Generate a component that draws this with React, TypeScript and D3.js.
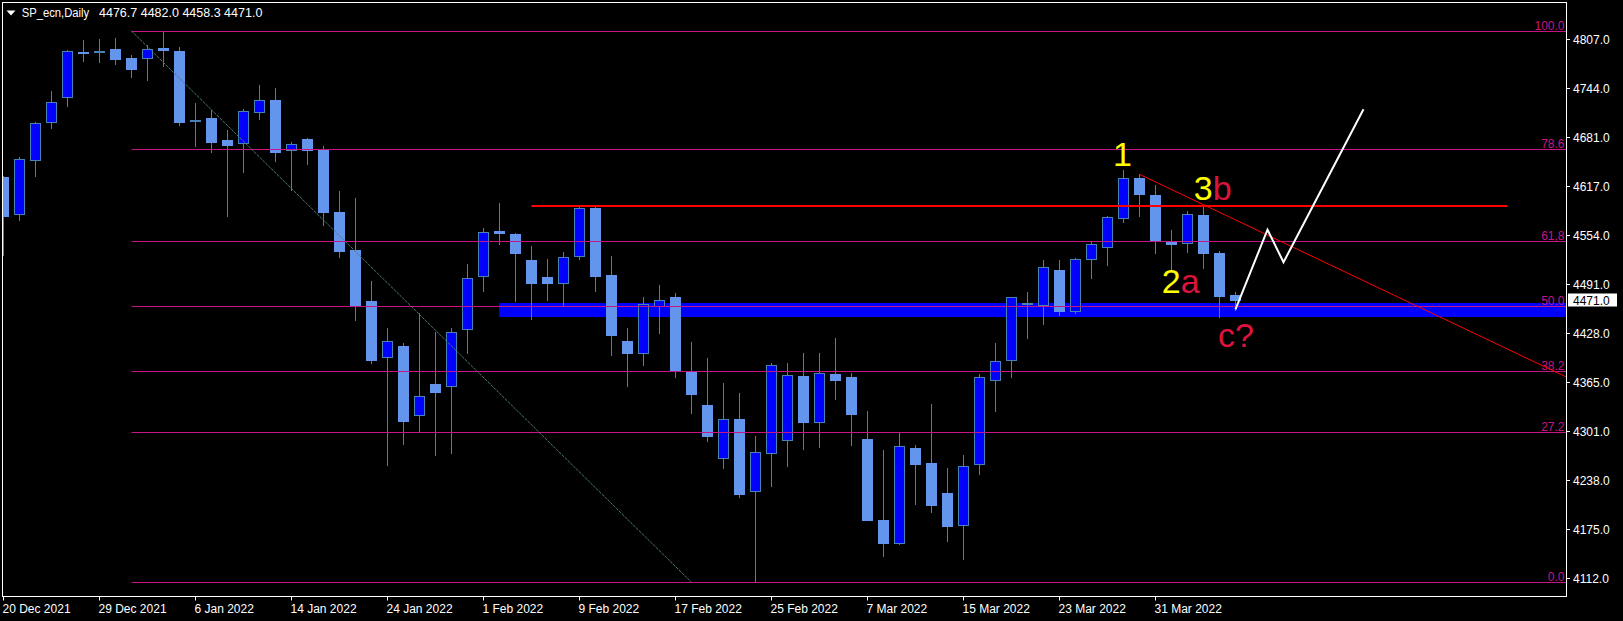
import React from "react";
import * as d3 from "d3";

// ---------- data ----------
const dates = [
  "2021-12-20","2021-12-21","2021-12-22","2021-12-23","2021-12-27","2021-12-28","2021-12-29","2021-12-30","2021-12-31",
  "2022-01-03","2022-01-04","2022-01-05","2022-01-06","2022-01-07","2022-01-10","2022-01-11","2022-01-12","2022-01-13","2022-01-14",
  "2022-01-17","2022-01-18","2022-01-19","2022-01-20","2022-01-21","2022-01-24","2022-01-25","2022-01-26","2022-01-27","2022-01-28",
  "2022-01-31","2022-02-01","2022-02-02","2022-02-03","2022-02-04","2022-02-07","2022-02-08","2022-02-09","2022-02-10","2022-02-11",
  "2022-02-14","2022-02-15","2022-02-16","2022-02-17","2022-02-18","2022-02-21","2022-02-22","2022-02-23","2022-02-24","2022-02-25",
  "2022-02-28","2022-03-01","2022-03-02","2022-03-03","2022-03-04","2022-03-07","2022-03-08","2022-03-09","2022-03-10","2022-03-11",
  "2022-03-14","2022-03-15","2022-03-16","2022-03-17","2022-03-18","2022-03-21","2022-03-22","2022-03-23","2022-03-24","2022-03-25",
  "2022-03-28","2022-03-29","2022-03-30","2022-03-31","2022-04-01","2022-04-04","2022-04-05","2022-04-06","2022-04-07",
];
const opens = [
  4629.7,4581.6,4651.3,4700.3,4732.5,4791.0,4790.5,4794.4,4783.2,
  4782.3,4795.0,4792.2,4702.3,4705.8,4677.4,4673.2,4713.2,4727.8,4664.2,
  4678.7,4665.5,4584.6,4535.6,4469.8,4396.7,4410.5,4321.9,4362.7,4359.8,
  4433.3,4501.4,4560.1,4556.2,4522.7,4500.7,4492.6,4527.4,4589.7,4503.3,
  4418.2,4402.3,4463.0,4473.7,4377.3,4334.4,4266.4,4317.6,4223.8,4272.8,
  4289.6,4371.8,4312.8,4375.6,4370.5,4291.8,4187.3,4156.8,4280.2,4259.6,
  4222.1,4180.0,4259.2,4367.5,4393.3,4466.3,4464.2,4509.8,4456.0,4523.6,
  4539.1,4576.5,4627.2,4606.5,4547.2,4544.2,4580.7,4531.7,4476.7,
];
const highs = [
  4631.4,4655.5,4700.3,4740.7,4793.5,4806.4,4807.3,4809.0,4787.1,
  4800.0,4818.0,4797.6,4725.2,4716.1,4690.3,4717.4,4748.4,4744.5,4674.9,
  4679.5,4669.7,4611.7,4602.6,4495.6,4435.0,4415.6,4454.3,4429.8,4435.0,
  4517.5,4563.9,4596.2,4557.5,4540.3,4524.0,4533.0,4590.7,4591.0,4527.8,
  4435.0,4475.0,4490.4,4480.1,4416.9,4395.9,4364.0,4351.1,4295.7,4389.8,
  4389.8,4402.7,4402.7,4422.1,4377.3,4327.9,4277.6,4299.9,4284.1,4336.9,
  4254.4,4271.2,4375.6,4415.6,4475.0,4481.0,4522.7,4522.7,4525.3,4547.2,
  4579.4,4638.8,4633.2,4619.8,4561.4,4585.9,4591.4,4533.9,4482.0,
];
const lows = [
  4529.1,4574.3,4631.4,4693.3,4721.7,4779.7,4778.4,4775.9,4759.1,
  4754.8,4773.3,4696.8,4669.7,4662.4,4579.4,4636.6,4704.1,4650.8,4613.3,
  4646.9,4568.2,4526.9,4445.3,4390.2,4258.3,4285.7,4302.5,4271.5,4274.1,
  4403.1,4483.1,4543.7,4470.2,4447.0,4471.5,4463.7,4524.4,4483.1,4400.5,
  4360.5,4387.9,4428.9,4372.2,4325.7,4289.6,4254.8,4217.4,4107.0,4231.6,
  4257.4,4279.3,4281.9,4343.8,4284.4,4186.7,4141.3,4156.5,4208.3,4198.0,
  4160.6,4137.4,4247.0,4328.3,4372.2,4422.5,4440.5,4452.1,4454.5,4499.8,
  4516.2,4572.1,4579.4,4532.1,4508.9,4533.4,4512.7,4449.5,4458.3,
];
const closes = [
  4578.5,4652.6,4699.0,4726.1,4791.9,4789.0,4791.5,4781.0,4769.0,
  4794.6,4792.5,4699.8,4702.3,4674.9,4670.1,4714.9,4727.8,4661.1,4671.9,
  4663.6,4584.6,4533.4,4463.7,4392.8,4417.8,4314.1,4346.9,4351.5,4429.4,
  4499.1,4558.4,4556.6,4530.8,4492.1,4492.1,4526.2,4589.4,4501.1,4425.0,
  4401.8,4465.5,4470.7,4379.9,4349.8,4294.8,4317.6,4219.6,4274.6,4386.9,
  4374.0,4313.7,4376.9,4367.9,4322.8,4187.3,4156.8,4281.5,4258.6,4205.8,
  4178.7,4256.6,4371.4,4392.0,4474.6,4466.3,4513.3,4456.0,4523.6,4542.9,
  4577.7,4628.1,4606.9,4547.6,4542.9,4581.6,4530.8,4475.3,4471.0,
];

const priceTicks = [4807, 4744, 4681, 4617, 4554, 4491, 4428, 4365, 4301, 4238, 4175, 4112];
const dateLabelEvery = 6;

const symbolName = "SP_ecn,Daily";
const quoteText = "4476.7 4482.0 4458.3 4471.0";
const lastPrice = 4471.0;

// Fibonacci retracement
const fibHigh = 4818.0;
const fibLow = 4107.0;
const fibStartIdx = 8;
const fibEndIdx = 43;
const fibLevels = [100, 78.6, 61.8, 50, 38.2, 27.2, 0];
const fibLabels = ["100.0", "78.6", "61,8", "50.0", "38.2", "27.2", "0.0"];

// horizontal resistance
const resistancePrice = 4592.3;
const resistanceIdx = [33, 94];
// descending trend line (ray)
const trendIdx = [71, 92];
const trendPrice = [4633.2, 4427.4];
// support zone
const zoneIdx = 31;
const zonePrices = [4467.2, 4449.2];
// projected path
const pathIdx = [77, 79, 80, 85];
const pathPrice = [4459.1, 4561.8, 4519.8, 4717.1];
// wave labels
const waveIdx = [69.34, 74.39, 72.39, 75.91];
const wavePrice = [4643.9, 4600.1, 4480.5, 4410.1];
const waveMain = ["1", "3", "2", ""];
const waveSub = ["", "b", "a", "c?"];

// ---------- styles ----------
const BULL = "#0000FF";
const BEAR = "#6495ED";
const WICK = "#4682B4";
const FIB = "#C71585";
const FONT = "'Liberation Sans', Arial, sans-serif";

export default function App() {
  React.useEffect(() => {
    document.body.style.margin = "0";
    document.body.style.background = "#000";
  }, []);

  const W = 1623, H = 621;
  const L = 2.5, T = 2.5, R = 1566.5, B = 596.5;

  const x = d3.scaleLinear().domain([0, 1]).range([3.5, 19.5]);
  const y = d3.scaleLinear().domain([4112, 4807]).range([578.4, 39.6]);
  const crisp = (v: number) => Math.round(v - 0.5) + 0.5;
  const fmt = d3.timeFormat("%-d %b %Y");
  const parse = d3.timeParse("%Y-%m-%d");

  const fibPrice = (lv: number) => fibLow + (fibHigh - fibLow) * lv / 100;

  const tx0 = x(trendIdx[0]), ty0 = y(trendPrice[0]);
  const tx1 = x(trendIdx[1]), ty1 = y(trendPrice[1]);
  const slope = (ty1 - ty0) / (tx1 - tx0);
  const tx2 = R + 50;
  const ty2 = ty0 + slope * (tx2 - tx0);

  const pathLine = d3.line<number>()
    .x((_, i) => x(pathIdx[i]))
    .y((d) => y(d));

  return (
    <div style={{ position: "fixed", left: 0, top: 0, width: W, height: H, background: "#000" }}>
      <svg width={W} height={H} style={{ display: "block", background: "#000" }}>
        <defs>
          <clipPath id="plotclip">
            <rect x={L + 0.5} y={T + 0.5} width={R - L - 1} height={B - T - 1} />
          </clipPath>
        </defs>

        <g clipPath="url(#plotclip)">
          <rect
            x={x(zoneIdx) - 0.5}
            y={Math.round(y(zonePrices[0]))}
            width={R - x(zoneIdx) + 10}
            height={Math.round(y(zonePrices[1])) - Math.round(y(zonePrices[0]))}
            fill="#0000FF"
          />

          {opens.map((o, i) => {
            const c = closes[i];
            const cx = x(i);
            const bull = c > o;
            const yTop = crisp(y(Math.max(o, c)));
            const yBot = crisp(y(Math.min(o, c)));
            return (
              <g key={i}>
                <line x1={cx} x2={cx} y1={Math.round(y(highs[i]))} y2={Math.round(y(lows[i])) + 1} stroke={WICK} strokeWidth={1} />
                {yBot - yTop < 1 ? (
                  <rect x={cx - 5.5} y={yTop - 0.5} width={11} height={2} fill={o === c ? WICK : bull ? WICK : BEAR} />
                ) : (
                  <rect x={cx - 5} y={yTop} width={10} height={yBot - yTop} fill={bull ? BULL : BEAR} stroke={bull ? WICK : BEAR} strokeWidth={1} />
                )}
              </g>
            );
          })}

          {fibLevels.map((lv, i) => {
            const yy = crisp(y(fibPrice(lv)));
            return (
              <g key={"fib" + i}>
                <line x1={x(fibStartIdx)} x2={R} y1={yy} y2={yy} stroke={FIB} strokeWidth={1} />
                <text x={R - 2} y={yy - 2} textAnchor="end" fontFamily={FONT} fontSize={12} fill={FIB}>
                  {fibLabels[i]}
                </text>
              </g>
            );
          })}
          <line
            x1={x(fibStartIdx)} y1={y(fibHigh)} x2={x(fibEndIdx)} y2={y(fibLow)}
            stroke="#4b7a74" strokeWidth={1} strokeDasharray="3 1"
          />

          <line
            x1={x(resistanceIdx[0])} x2={x(resistanceIdx[1])}
            y1={Math.round(y(resistancePrice))} y2={Math.round(y(resistancePrice))}
            stroke="#FF0000" strokeWidth={2}
          />
          <line x1={tx0} y1={ty0} x2={tx2} y2={ty2} stroke="#FF0000" strokeWidth={1} />

          <path d={pathLine(pathPrice) || ""} fill="none" stroke="#FFFFFF" strokeWidth={2} strokeLinejoin="miter" />

          {waveIdx.map((wi, i) => (
            <text key={"w" + i} x={x(wi)} y={y(wavePrice[i])} fontFamily={FONT} fontSize={34}>
              {waveMain[i] && <tspan fill="#FFFF00">{waveMain[i]}</tspan>}
              {waveSub[i] && <tspan fill="#DC143C">{waveSub[i]}</tspan>}
            </text>
          ))}
        </g>

        <rect x={L} y={T} width={R - L} height={B - T} fill="none" stroke="#FFFFFF" strokeWidth={1} />

        {priceTicks.map((p) => {
          const yy = crisp(y(p));
          return (
            <g key={"pt" + p}>
              <line x1={R} x2={R + 3.5} y1={yy} y2={yy} stroke="#FFFFFF" />
              <text x={1573} y={yy + 4.5} fontFamily={FONT} fontSize={12} fill="#FFFFFF">
                {p.toFixed(1)}
              </text>
            </g>
          );
        })}
        <rect x={1568} y={Math.round(y(lastPrice)) - 6.5} width={49} height={13} fill="#FFFFFF" />
        <text x={1573} y={Math.round(y(lastPrice)) + 4.5} fontFamily={FONT} fontSize={12} fill="#000000">
          {lastPrice.toFixed(1)}
        </text>

        {dates.map((d, i) =>
          i % dateLabelEvery === 0 ? (
            <g key={"dt" + i}>
              <line x1={x(i)} x2={x(i)} y1={B} y2={B + 4} stroke="#FFFFFF" />
              <text x={x(i) - 1} y={612.5} fontFamily={FONT} fontSize={12} fill="#FFFFFF">
                {fmt(parse(d) as Date)}
              </text>
            </g>
          ) : null
        )}

        <polygon points="6.5,10.5 15.5,10.5 11,15.5" fill="#FFFFFF" />
        <text x={21.7} y={17.3} fontFamily={FONT} fontSize={12.5} fill="#FFFFFF" textLength={67.5} lengthAdjust="spacingAndGlyphs">{symbolName}</text>
        <text x={99} y={17.3} fontFamily={FONT} fontSize={12.5} fill="#FFFFFF">{quoteText}</text>
      </svg>
    </div>
  );
}
